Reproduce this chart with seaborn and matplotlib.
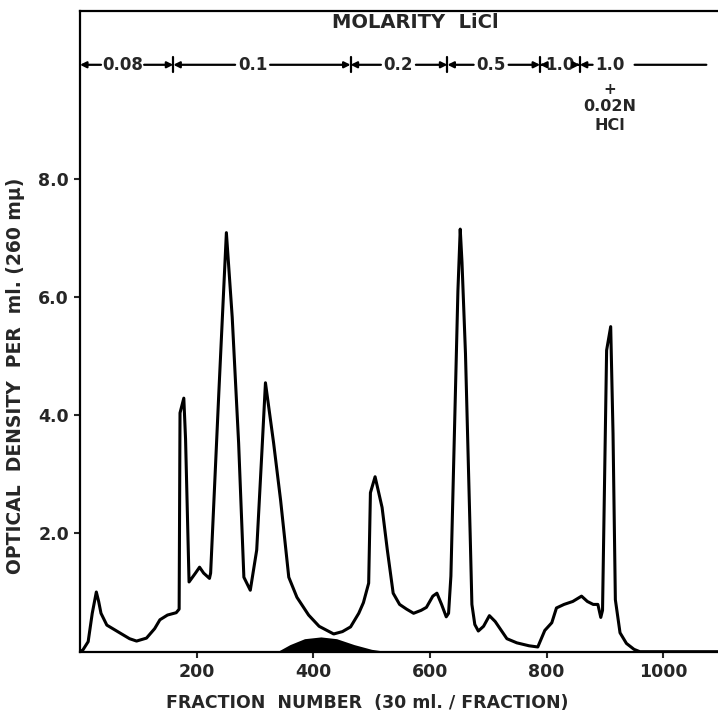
import numpy as np
import pandas as pd
import seaborn as sns
import matplotlib.pyplot as plt

# elution profile (fraction number, optical density)
fraction = [0, 5, 14, 21, 28, 32, 36, 46, 68, 85, 97, 114, 128, 137, 150, 165, 170,
            171.5, 178, 181, 187, 198, 205, 212, 222,
            224, 238, 251, 261, 272, 281, 292, 303, 312, 318, 332, 344, 358, 372,
            392, 410, 435, 450, 464, 478, 486, 495, 498, 506, 518, 527, 537,
            548, 560, 572, 585, 594, 605, 612, 620, 628, 632, 636, 642, 648, 652,
            655, 661, 669, 672, 677, 683, 692, 702, 712, 732, 749, 770, 785,
            797, 809, 817, 830, 845, 860, 870, 880, 888, 893, 896, 903, 910,
            914, 918, 926, 937, 950, 960, 1094]
optical_density = [0.0, 0.03, 0.17, 0.65, 1.01, 0.85, 0.65, 0.45, 0.32, 0.22, 0.18, 0.23, 0.39, 0.54, 0.62, 0.66, 0.72,
                   4.04, 4.29, 3.60, 1.18, 1.33, 1.43, 1.33, 1.24,
                   1.33, 4.37, 7.09, 5.66, 3.53, 1.26, 1.04, 1.72, 3.40, 4.55, 3.53, 2.56, 1.26, 0.92,
                   0.62, 0.43, 0.30, 0.34, 0.42, 0.65, 0.83, 1.16, 2.69, 2.96, 2.44, 1.72, 0.99,
                   0.80, 0.72, 0.65, 0.70, 0.75, 0.94, 0.99, 0.80, 0.59, 0.65, 1.28, 3.69, 6.10, 7.15,
                   6.59, 5.04, 2.00, 0.80, 0.46, 0.35, 0.43, 0.61, 0.51, 0.22, 0.15, 0.10, 0.08,
                   0.36, 0.49, 0.74, 0.80, 0.85, 0.94, 0.85, 0.80, 0.80, 0.58, 0.70, 5.10, 5.50,
                   3.69, 0.88, 0.32, 0.14, 0.04, 0.0, 0.0]

# shaded hump under the curve
hump_fraction = [338, 360, 385, 413, 440, 470, 500, 528]
hump_density = [0.0, 0.12, 0.22, 0.25, 0.22, 0.12, 0.04, 0.0]

# LiCl steps along the top
step_bounds = [0, 160, 464, 630, 789, 857, 1094]
step_labels = ['0.08', '0.1', '0.2', '0.5', '1.0', '1.0']
step_label_x = [73, 296, 546, 705, 823, 909]

sns.set_style('ticks')
plt.rcParams['font.family'] = ['DejaVu Sans']

fig = plt.figure(figsize=(7.18, 7.16), dpi=100)
ax = fig.add_axes([80 / 718, 1 - 651.7 / 716, 1 - 80 / 718, (651.7 - 11) / 716])

df = pd.DataFrame({'fraction': fraction, 'od': optical_density})
sns.lineplot(data=df, x='fraction', y='od', ax=ax, color='black', lw=2.2,
             sort=False, estimator=None)
ax.fill_between(hump_fraction, 0, hump_density, color='black', lw=0)

ax.set_xlim(0, 1094)
ax.set_ylim(0, 10.84)
ax.set_xticks([200, 400, 600, 800, 1000])
ax.set_xticklabels(['200', '400', '600', '800', '1000'])
ax.set_yticks([2, 4, 6, 8])
ax.set_yticklabels(['2.0', '4.0', '6.0', '8.0'])
ax.tick_params(axis='both', direction='out', length=4, width=1.5, labelsize=12.5, pad=4)
for lab in ax.get_xticklabels() + ax.get_yticklabels():
    lab.set_fontweight('bold')

ax.spines['right'].set_visible(False)
for s in ['left', 'bottom', 'top']:
    ax.spines[s].set_linewidth(1.6)
    ax.spines[s].set_color('black')

ax.set_xlabel('FRACTION  NUMBER  (30 ml. / FRACTION)', fontsize=12.5, fontweight='bold')
ax.xaxis.label.set_va('center')
ax.xaxis.set_label_coords(0.45, -0.08)
ax.set_ylabel('OPTICAL  DENSITY  PER  ml. (260 m\u03bc)', fontsize=13.5, fontweight='bold')
ax.yaxis.set_label_coords(-0.086, 0.43)

# molarity annotation
ax.text(575, 10.65, 'MOLARITY  LiCl', ha='center', va='center', fontsize=14, fontweight='bold')
row_y = 9.93
for b in step_bounds[1:-1]:
    ax.plot([b, b], [row_y - 0.13, row_y + 0.13], color='black', lw=1.6, clip_on=False)

arrow = dict(arrowstyle='-|>', color='black', lw=1.6, mutation_scale=9, shrinkA=0, shrinkB=0)
line = dict(arrowstyle='-', color='black', lw=1.6, shrinkA=0, shrinkB=0)
for i, lab in enumerate(step_labels):
    cx = step_label_x[i]
    half = len(lab) * 7 + 9
    ax.text(cx, row_y, lab, ha='center', va='center', fontsize=12, fontweight='bold')
    left, right = step_bounds[i], step_bounds[i + 1]
    ax.annotate('', xy=(left, row_y), xytext=(cx - half, row_y), arrowprops=arrow)
    if i < len(step_labels) - 1:
        ax.annotate('', xy=(right, row_y), xytext=(cx + half, row_y), arrowprops=arrow)
    else:
        ax.annotate('', xy=(right - 20, row_y), xytext=(cx + half + 12, row_y), arrowprops=line)

ax.text(step_label_x[-1], 9.52, '+', ha='center', va='center', fontsize=11, fontweight='bold')
ax.text(step_label_x[-1], 9.22, '0.02N', ha='center', va='center', fontsize=11.5, fontweight='bold')
ax.text(step_label_x[-1], 8.9, 'HCl', ha='center', va='center', fontsize=11.5, fontweight='bold')

fig.savefig('out.png', dpi=100)
